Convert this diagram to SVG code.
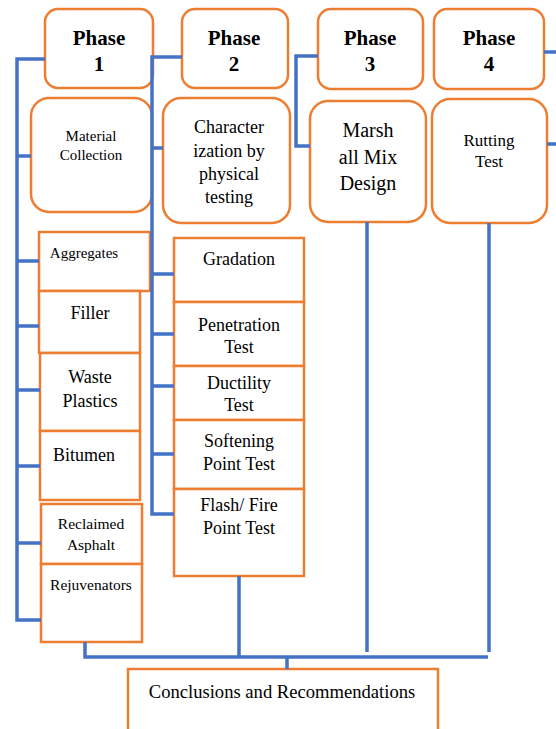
<svg xmlns="http://www.w3.org/2000/svg" width="556" height="729" viewBox="0 0 556 729">
<style>
.box{fill:#fff;stroke:#ED7D31;stroke-width:2.5}
.ln{fill:none;stroke:#4472C4;stroke-width:3.5}
.ph{font-size:21px;font-weight:bold}
</style>
<rect width="556" height="729" fill="#fff"/>
<g font-family="'Liberation Serif', 'DejaVu Serif', serif" text-anchor="middle" fill="#000">
<g id="phase1"><rect class="box" x="45" y="9" width="108" height="79" rx="13"/><text class="ph" x="99" y="45">Phase</text><text class="ph" x="99" y="71">1</text></g>
<g id="phase2"><rect class="box" x="182" y="9" width="106" height="79" rx="13"/><text class="ph" x="234" y="45">Phase</text><text class="ph" x="234" y="71">2</text></g>
<g id="phase3"><rect class="box" x="318" y="9" width="105" height="80" rx="13"/><text class="ph" x="370" y="45">Phase</text><text class="ph" x="370" y="71">3</text></g>
<g id="phase4"><rect class="box" x="434" y="9" width="110" height="80" rx="13"/><text class="ph" x="489" y="45">Phase</text><text class="ph" x="489" y="71">4</text></g>
<g id="material"><rect class="box" x="31" y="98" width="121" height="114" rx="18"/><text x="91" y="141" font-size="15">Material</text><text x="91" y="160" font-size="15">Collection</text></g>
<g id="character"><rect class="box" x="163" y="98" width="127" height="125" rx="18"/><text x="229" y="133" font-size="18">Character</text><text x="229" y="157" font-size="18">ization by</text><text x="229" y="180" font-size="18">physical</text><text x="229" y="203" font-size="18">testing</text></g>
<g id="marshall"><rect class="box" x="310" y="101" width="116" height="121" rx="18"/><text x="368" y="137" font-size="20">Marsh</text><text x="368" y="164" font-size="20">all Mix</text><text x="368" y="190" font-size="20">Design</text></g>
<g id="rutting"><rect class="box" x="432" y="99" width="115" height="124" rx="18"/><text x="489" y="146" font-size="17">Rutting</text><text x="489" y="167" font-size="17">Test</text></g>
<g id="aggregates"><rect class="box" x="39" y="232" width="111" height="59"/><text x="84" y="258" font-size="15">Aggregates</text></g>
<g id="filler"><rect class="box" x="39" y="291" width="101" height="62"/><text x="90" y="319" font-size="18">Filler</text></g>
<g id="waste"><rect class="box" x="40" y="353" width="100" height="78"/><text x="90" y="383" font-size="18">Waste</text><text x="90" y="407" font-size="18">Plastics</text></g>
<g id="bitumen"><rect class="box" x="40" y="431" width="100" height="69"/><text x="84" y="461" font-size="18">Bitumen</text></g>
<g id="reclaimed"><rect class="box" x="41" y="504" width="101" height="60"/><text x="91" y="529" font-size="15.5">Reclaimed</text><text x="91" y="550" font-size="15.5">Asphalt</text></g>
<g id="rejuvenators"><rect class="box" x="41" y="564" width="101" height="78"/><text x="91" y="590" font-size="15.5">Rejuvenators</text></g>
<g id="gradation"><rect class="box" x="174" y="238" width="130" height="64"/><text x="239" y="265" font-size="18">Gradation</text></g>
<g id="penetration"><rect class="box" x="174" y="302" width="130" height="64"/><text x="239" y="331" font-size="18">Penetration</text><text x="239" y="353" font-size="18">Test</text></g>
<g id="ductility"><rect class="box" x="174" y="366" width="130" height="54"/><text x="239" y="389" font-size="18">Ductility</text><text x="239" y="411" font-size="18">Test</text></g>
<g id="softening"><rect class="box" x="174" y="420" width="130" height="69"/><text x="239" y="447" font-size="18">Softening</text><text x="239" y="470" font-size="18">Point Test</text></g>
<g id="flash"><rect class="box" x="174" y="489" width="130" height="87"/><text x="239" y="511" font-size="18">Flash/ Fire</text><text x="239" y="534" font-size="18">Point Test</text></g>
<g id="conclusions"><rect class="box" x="128" y="669" width="310" height="70"/><text x="282" y="698" font-size="18.6">Conclusions and Recommendations</text></g>
</g>
<g id="connectors">
<path class="ln" d="M45 59H17V620H41M17 156H31M17 261H39M17 326H39M17 390H40M17 466H40M17 543H41"/>
<path class="ln" d="M182 57H152V514H174M152 148H163M152 274H174M152 334H174M152 386H174M152 454H174"/>
<path class="ln" d="M318 56H296V146H310"/>
<path class="ln" d="M544 52H556M547 144H556"/>
<path class="ln" d="M85 642V657H488M239 576V657M367 222V652M489 223V652M287 657V669"/>
</g>
</svg>
